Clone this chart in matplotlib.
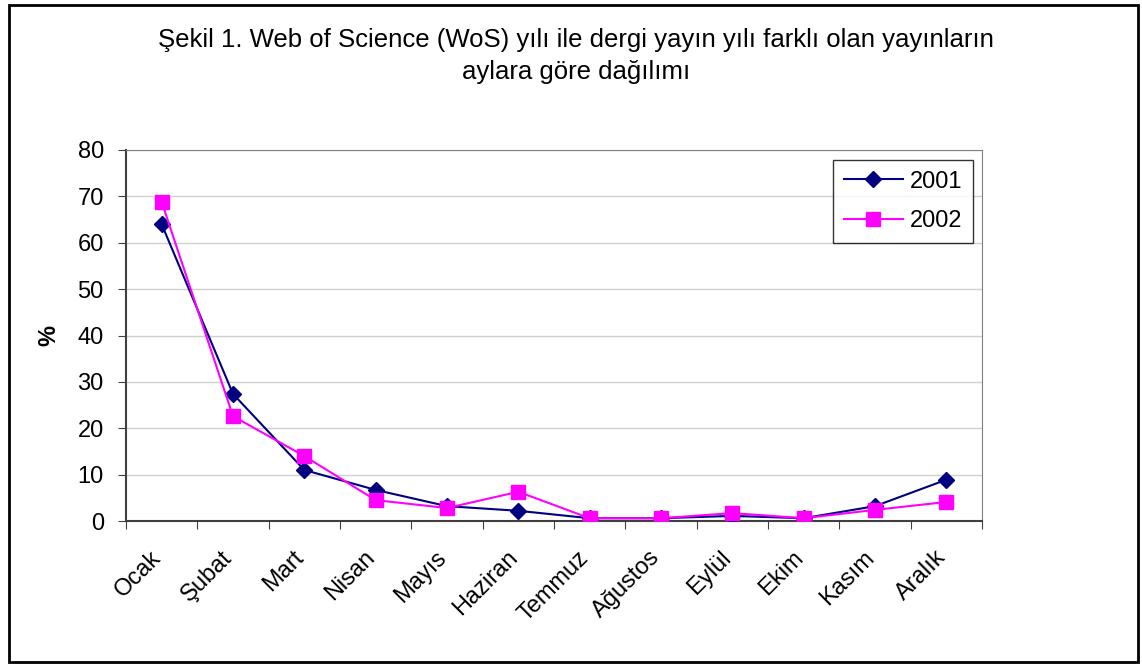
import numpy as np
import matplotlib.pyplot as plt
import matplotlib.transforms as mtransforms
from matplotlib.patches import Rectangle

plt.rcParams['font.family'] = ['Liberation Sans', 'DejaVu Sans']

# months and series values (%)
months = ['Ocak', 'Şubat', 'Mart', 'Nisan', 'Mayıs', 'Haziran', 'Temmuz',
          'Ağustos', 'Eylül', 'Ekim', 'Kasım', 'Aralık']
y2001 = [64.0, 27.4, 11.0, 6.7, 3.2, 2.2, 0.6, 0.6, 1.1, 0.6, 3.2, 8.9]
y2002 = [68.8, 22.6, 14.0, 4.5, 2.8, 6.3, 0.6, 0.6, 1.7, 0.6, 2.4, 4.1]
yticks = [0, 10, 20, 30, 40, 50, 60, 70, 80]

W, H = 1142, 666
fig = plt.figure(figsize=(W / 100, H / 100), dpi=100)
ax = fig.add_axes([126 / W, 1 - 521 / H, (982 - 126) / W, (521 - 150) / H])

# outer frame
fig.patches.append(Rectangle((9 / W, 4 / H), (1138 - 9) / W, (661 - 4) / H,
                             transform=fig.transFigure, fill=False,
                             edgecolor='black', linewidth=2))

x = np.arange(len(months))
ax.plot(x, y2001, color='#000080', marker='D', markersize=8, linewidth=1.5,
        label='2001', zorder=3)
ax.plot(x, y2002, color='#FF00FF', marker='s', markersize=10, linewidth=1.5,
        label='2002', zorder=4)

ax.set_xlim(-0.5, len(months) - 0.5)
ax.set_ylim(0, 80)
ax.set_yticks(yticks)
ax.grid(axis='y', color='#d0d0d0', linewidth=1)
ax.set_axisbelow(True)

# category boundary ticks and centered labels
ax.set_xticks(np.arange(-0.5, len(months), 1))
ax.set_xticklabels([])
ax.set_xticks(x, minor=True)
ax.set_xticklabels(months, minor=True, rotation=45, ha='right', va='center',
                   rotation_mode='anchor', fontsize=17)
ax.tick_params(axis='x', which='minor', length=0, pad=24)
ax.tick_params(axis='x', which='major', length=6, color='#404040')
ax.tick_params(axis='y', length=6, color='#404040', labelsize=17, pad=10)
shift = mtransforms.ScaledTranslation(-4 / 100, 0, fig.dpi_scale_trans)
for lab in ax.get_xticklabels(minor=True):
    lab.set_transform(lab.get_transform() + shift)

for s in ['top', 'right']:
    ax.spines[s].set_color('#808080')
for s in ['left', 'bottom']:
    ax.spines[s].set_color('#404040')
    ax.spines[s].set_linewidth(1.5)

ax.set_ylabel('%', fontsize=17, fontweight='bold', labelpad=12)

leg = ax.legend(loc='upper right', bbox_to_anchor=(0.9895, 0.973), fontsize=17,
                frameon=True, fancybox=False, edgecolor='black',
                handlelength=2.5, handletextpad=0.3, borderpad=0.45,
                labelspacing=0.75, borderaxespad=0)
leg.get_frame().set_linewidth(1)

fig.text(576 / W, 1 - 40 / H,
         'Şekil 1. Web of Science (WoS) yılı ile dergi yayın yılı farklı olan yayınların',
         ha='center', va='center', fontsize=18.5)
fig.text(576 / W, 1 - 72 / H, 'aylara göre dağılımı',
         ha='center', va='center', fontsize=18.5)

fig.savefig('out.png', dpi=100)
